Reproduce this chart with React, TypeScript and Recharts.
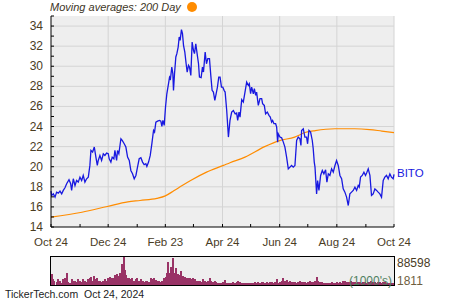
import { LineChart, Line, XAxis, YAxis, CartesianGrid, ReferenceLine, BarChart, Bar } from 'recharts';

// days counted from Oct 24, 2023
const priceDays = [
  0, 0.7, 2.5, 4.3, 6, 7.8, 9.6, 11.4, 13.1, 14.9,
  16.7, 19.2, 21, 22, 23.8, 25.6, 27.3, 29.1, 30.9, 32.7,
  34.4, 36.2, 38, 39.8, 41.5, 42.6, 44.4, 46.2, 47.9, 49.4,
  50.4, 52.2, 54, 55.8, 57.5, 59.3, 61.1, 62.1, 63.9, 65.3,
  67.1, 68.2, 70, 71, 72.4, 74.6, 76, 78.1, 79.9, 81.7,
  83.5, 85.2, 87, 88.8, 90.6, 92.3, 94.1, 95.9, 97.7, 99.4,
  101.2, 102.3, 104.1, 105.9, 107.6, 109.4, 110.5, 111.9, 113.7, 115.8,
  117.2, 118.3, 119.4, 120.8, 122.2, 123.6, 125.4, 126.5, 127.5, 128.9,
  130, 130.7, 131.8, 133.2, 134.3, 135.7, 136.8, 137.8, 139.2, 140.3,
  141.4, 142.8, 144.2, 145.3, 146.7, 147.8, 149.2, 150.6, 152, 153.1,
  154.5, 155.9, 157.4, 158.4, 160.2, 161.6, 162.7, 164.5, 165.9, 167.3,
  169.1, 170.5, 171.9, 173.3, 174.8, 176.2, 177.6, 179, 180.4, 181.9,
  183.3, 184.7, 185.8, 187.5, 189.3, 191, 192.8, 194.6, 196.4, 198.1,
  199.2, 200.6, 201.7, 203.5, 205.2, 207, 208.8, 210.6, 211.6, 213,
  214.1, 215.9, 217, 218.4, 219.4, 221.2, 223, 224.8, 225.8, 227.6,
  229, 230.8, 232.6, 234, 235.4, 236.5, 237.9, 239.7, 240.8, 241.8,
  242.5, 244.3, 246.1, 247.9, 249.6, 251.4, 253.2, 255, 256.7, 258.5,
  260.3, 262.1, 263.8, 265.6, 266.7, 267.4, 269.2, 270.9, 272.7, 273.8,
  275.2, 277, 278.8, 279.8, 280.9, 281.7, 283.4, 284.5, 285.9, 287.7,
  289.5, 291.2, 293, 294.4, 295.9, 297.6, 299.4, 301.2, 303, 304.7,
  306.5, 308.3, 310.1, 311.8, 313.6, 315.4, 317.2, 318.9, 320.7, 322.5,
  324.3, 326.1, 327.8, 328.9, 330.3, 332.1, 333.9, 335.6, 337.1, 338.5,
  340.3, 342, 343.8, 345.6, 347.4, 349.1, 350.9, 352.7, 354.5, 356.2,
  358, 359.8, 361.6, 363.3, 365.1, 366,
];

const priceValues = [
  17.57, 17.14, 17.3, 16.97, 17.47, 17.37, 17.57, 17.3, 17.64, 17.9,
  18.3, 18.7, 18.3, 17.64, 18.8, 18.13, 18.63, 18.47, 18.96, 18.63,
  19.13, 18.47, 18.8, 18.96, 20.13, 21.62, 21.46, 21.96, 20.95, 20.13,
  20.62, 21.12, 20.62, 21.29, 21.12, 21.36, 21.29, 20.79, 20.46, 20.95,
  20.79, 21.62, 20.62, 21.62, 21.29, 22.78, 22.62, 22.29, 21.96, 20.95,
  20.62, 19.63, 19.3, 18.8, 19.13, 19.96, 20.79, 20.89, 20.46, 20.2,
  20.3, 20.03, 20.46, 21.12, 22.28, 23.61, 23.44, 24.44, 24.54, 24.61,
  24.54, 24.01, 24.61, 24.11, 25.94, 27.26, 28.26, 28.92, 28.76, 29.92,
  29.26, 27.6, 29.26, 30.92, 31.25, 31.91, 32.91, 32.58, 33.64, 33.24,
  32.08, 31.41, 30.25, 29.42, 30.09, 29.92, 29.09, 32.41, 31.58, 31.25,
  32.24, 31.25, 30.25, 28.92, 28.86, 29.92, 29.42, 31.41, 30.25, 30.75,
  30.75, 29.09, 27.6, 27.43, 26.6, 27.26, 27.93, 28.92, 28.92, 27.93,
  27.93, 27.6, 27.43, 25.6, 22.95, 24.61, 25.44, 25.6, 25.27, 25.34,
  24.61, 25.44, 24.94, 26.67, 26.43, 27.43, 28.43, 28.09, 28.26, 27.26,
  27.93, 27.26, 27.76, 27.1, 27.43, 26.1, 26.77, 26.77, 26.27, 26.1,
  25.27, 25.44, 25.11, 24.94, 24.44, 24.61, 24.28, 24.28, 23.94, 22.45,
  23.28, 22.95, 22.88, 22.45, 21.95, 20.95, 19.79, 19.96, 20.12, 19.96,
  20.12, 22.61, 22.95, 22.78, 22.12, 23.61, 23.78, 22.95, 22.95, 22.28,
  23.61, 23.44, 22.61, 21.79, 20.46, 19.96, 17.3, 18.63, 17.64, 19.13,
  19.63, 19.29, 19.69, 18.46, 19.29, 19.13, 19.79, 19.46, 20.12, 20.62,
  20.12, 19.13, 18.8, 17.8, 17.47, 16.97, 16.14, 17.3, 17.47, 17.64,
  17.97, 17.64, 18.13, 17.97, 18.96, 19.13, 19.46, 19.13, 19.46, 19.79,
  19.13, 17.14, 17.3, 17.8, 17.64, 17.47, 17.3, 16.97, 18.63, 18.96,
  19.13, 18.8, 19.29, 18.96, 18.8, 19.23,
];

// 200 day moving average
const maDays = [0, 33, 60, 82, 95, 113, 122, 131, 140, 149, 166, 184, 191, 207, 228, 244, 260, 271, 282, 303, 324, 340, 353, 366];
const maValues = [14.98, 15.47, 16.04, 16.5, 16.64, 16.85, 17.1, 17.6, 18.13, 18.63, 19.46, 20.13, 20.4, 20.95, 22.0, 22.6, 22.95, 23.4, 23.6, 23.78, 23.78, 23.7, 23.55, 23.4];

// volume, in 1000's
const volumeDays = [
  0.7, 1.8, 3.6, 6, 7.8, 9.6, 11.4, 13.1, 14.9, 16.7,
  18.5, 20.2, 22, 23.8, 25.6, 27.3, 29.1, 30.9, 32.7, 34.5,
  36.2, 38, 39.8, 41.6, 42.6, 44, 45.8, 46.9, 48.7, 50.4,
  52.2, 54, 55.8, 57.5, 59.3, 61.1, 62.9, 64.6, 66.4, 68.2,
  70, 71.7, 73.5, 74.6, 76, 77.1, 78.1, 79.2, 80.3, 81.7,
  83.5, 85.2, 87, 88.8, 90.6, 92.3, 94.1, 95.9, 97.7, 99.5,
  101.2, 103, 104.8, 106.6, 108.3, 110.1, 111.9, 113.7, 115.4, 117.2,
  119, 120.8, 122.5, 123.6, 124.7, 125.7, 127.2, 128.6, 130, 131.1,
  132.1, 133.2, 134.6, 135.7, 137.5, 139.2, 141, 142.8, 144.6, 146.3,
  148.1, 149.9, 151.7, 153.4, 155.2, 157, 158.8, 160.5, 162.3, 164.1,
  165.9, 167.6, 169.4, 171.2, 173, 174.7, 176.5, 178.3, 180.1,
  182.2, 184, 185.7, 187.5, 189.3, 191.1, 192.8, 194.6, 196.4, 198.2,
  199.9, 201.7, 203.5, 205.3, 207, 208.8, 210.6, 212.4, 214.1, 215.9,
  217.7, 219.5, 221.2, 223, 224.8, 226.6, 228.4, 230.1, 231.9, 233.7,
  235.5, 237.2, 239, 240.8, 242.6, 244.3, 246.1, 247.9, 249.7, 251.4,
  253.2, 255, 256.8, 258.5, 260.3, 262.1, 263.9, 265.6, 267.4, 269.2,
  271, 272.8, 274.5, 276.3, 278.1, 279.9, 281.6, 283.4, 285.2, 287,
  288.7, 290.5, 292.3, 294.1, 295.8, 297.6, 299.4, 301.2, 302.9, 304.7,
  306.5, 308.3, 310, 311.8, 313.6, 315.4, 317.2, 318.9, 320.7, 322.5,
  324.3, 326, 327.8, 329.6, 331.4, 333.1, 334.9, 336.7, 338.5, 340.2,
  342, 343.8, 345.6, 347.3, 349.1, 350.9, 352.7, 354.5, 356.2, 358,
  359.8, 361.6, 363.3, 365.1,
];

const volumes = [
  36100, 17500, 12000, 9800, 17500, 12000, 6600, 17500, 20800, 39400,
  9800, 6600, 17500, 12000, 12000, 9800, 17500, 14200, 9800, 17500,
  12000, 9800, 17500, 23000, 25200, 12000, 28400, 17500, 20800, 12000,
  14200, 9800, 12000, 17500, 12000, 20800, 25200, 20800, 23000, 31700,
  36100, 28400, 39400, 33900, 66700, 50300, 88598, 47000, 31700, 20800,
  23000, 17500, 20800, 14200, 17500, 20800, 12000, 17500, 12000, 9800,
  14200, 12000, 9800, 20800, 17500, 20800, 16400, 14200, 12000, 9800,
  12000, 20800, 25200, 39400, 72200, 33900, 39400, 55800, 86000, 39400,
  28400, 53600, 25200, 33900, 31700, 44900, 28400, 25200, 23000, 20800,
  20800, 17500, 23000, 17500, 12000, 14200, 12000, 9800, 17500, 14200,
  9800, 12000, 20800, 12000, 9800, 12000, 9800, 7700, 5500,
  5500, 9800, 16400, 7700, 7700, 5500, 7700, 9800, 7700, 10900,
  13100, 9800, 7700, 5500, 5500, 7700, 7700, 5500, 5500, 7700,
  9800, 7700, 9800, 7700, 10900, 9800, 7700, 9800, 7700, 9800,
  10900, 7700, 9800, 18600, 7700, 9800, 13100, 20800, 13100, 16400,
  10900, 12000, 9800, 10900, 9800, 7700, 9800, 13100, 9800, 10900,
  9800, 7700, 10900, 14200, 9800, 10900, 14200, 26300, 12000, 9800,
  10900, 7700, 5500, 7700, 5500, 7700, 9800, 7700, 5500, 9800,
  7700, 10900, 7700, 12000, 13100, 10900, 9800, 9800, 12000, 8800,
  10900, 7700, 9800, 8800, 7700, 9800, 10900, 7700, 8800, 9800,
  12000, 9800, 8800, 7700, 9800, 8800, 7700, 9800, 8800, 7700,
  6600, 7700, 6600, 7700,
];

const xMajorTicks = [0, 61, 122, 183, 244, 305, 366];
const xMajorLabels = ['Oct 24', 'Dec 24', 'Feb 23', 'Apr 24', 'Jun 24', 'Aug 24', 'Oct 24'];
const xMinorTicks = [31, 92, 152, 213, 274, 336];
const yMajorTicks = [14, 16, 18, 20, 22, 24, 26, 28, 30, 32, 34];
const yMinorTicks = [15, 17, 19, 21, 23, 25, 27, 29, 31, 33, 35];
const volumeHigh = 88598;
const volumeLow = 1811;
const ticker = 'BITO';

const FONT = '"Liberation Sans", Arial, sans-serif';
const TEXT = '#4a3c1f';
const PRICE_COLOR = '#1818e0';
const MA_COLOR = '#ff8c00';
const GRID_COLOR = '#d4d4d4';
const VOLUME_COLOR = '#993366';

const priceData = priceDays.map((day, i) => ({ day, price: priceValues[i] }));
const maData = maDays.map((day, i) => ({ day, ma: maValues[i] }));
const volumeData = volumeDays.map((day, i) => ({ day, volume: volumes[i] }));

const renderYTick = (props: any) => {
  const { x, y, payload } = props;
  const axisX = x + 8;
  const major = payload.value % 2 === 0;
  return (
    <g>
      <line x1={axisX} x2={axisX + 3} y1={y} y2={y} stroke="#000" />
      {major && (
        <text x={x} y={y + 4} textAnchor="end" fill={TEXT} fontSize={12} fontFamily={FONT}>
          {payload.value}
        </text>
      )}
    </g>
  );
};

const renderXTick = (props: any) => {
  const { x, y, payload } = props;
  const idx = xMajorTicks.indexOf(payload.value);
  return (
    <g>
      <line x1={x} x2={x} y1={y} y2={y - 3} stroke="#000" />
      {idx >= 0 && (
        <text x={x} y={y + 19} textAnchor="middle" fill={TEXT} fontSize={11.5} fontFamily={FONT}>
          {xMajorLabels[idx]}
        </text>
      )}
    </g>
  );
};

const renderTickerLabel = (props: any) => {
  if (props.index !== priceData.length - 1) return null;
  return (
    <text x={props.x + 3} y={props.y + 3} fill={PRICE_COLOR} fontSize={11.5} fontFamily={FONT}>
      {ticker}
    </text>
  );
};

// keep each volume bar 2px wide, centred on its day
const VolumeBar = (props: any) => {
  const { x, y, width, height } = props;
  if (!height || height <= 0) return null;
  return <rect x={x + width / 2 - 1} y={y} width={2} height={height} fill={VOLUME_COLOR} shapeRendering="crispEdges" />;
};

export default function App() {
  return (
    <div style={{ position: 'absolute', left: 0, top: 0, width: 450, height: 300, background: '#fff', fontFamily: FONT }}>
      <div style={{ position: 'absolute', left: 50, top: 0, fontSize: 11, lineHeight: '14px', fontStyle: 'italic', color: '#3d3526', whiteSpace: 'nowrap' }}>
        Moving averages: 200 Day
      </div>
      <div style={{ position: 'absolute', left: 187, top: 2, width: 10, height: 10, borderRadius: '50%', background: MA_COLOR }} />

      <LineChart width={450} height={250} margin={{ top: 16, right: 56, left: 0, bottom: 0 }}>
        <CartesianGrid fill="#eeeeee" horizontal={false} vertical={false} />
        {yMajorTicks.slice(1).map((v) => (
          <ReferenceLine key={`h${v}`} y={v} stroke={GRID_COLOR} strokeWidth={1} />
        ))}
        {xMajorTicks.slice(1).map((v) => (
          <ReferenceLine key={`v${v}`} x={v} stroke={GRID_COLOR} strokeWidth={1} />
        ))}
        <XAxis
          dataKey="day"
          type="number"
          domain={[0, 366]}
          ticks={[...xMajorTicks, ...xMinorTicks].sort((a, b) => a - b)}
          interval={0}
          height={23}
          tickSize={0}
          tickMargin={0}
          tickLine={false}
          axisLine={{ stroke: '#000' }}
          tick={renderXTick}
        />
        <YAxis
          type="number"
          domain={[14, 35]}
          ticks={[...yMajorTicks, ...yMinorTicks].sort((a, b) => a - b)}
          interval={0}
          width={51}
          tickSize={0}
          tickMargin={8}
          tickLine={false}
          axisLine={{ stroke: '#000' }}
          tick={renderYTick}
        />
        <Line
          data={maData}
          dataKey="ma"
          type="monotone"
          stroke={MA_COLOR}
          strokeWidth={1.2}
          dot={false}
          isAnimationActive={false}
        />
        <Line
          data={priceData}
          dataKey="price"
          type="linear"
          stroke={PRICE_COLOR}
          strokeWidth={1.3}
          dot={false}
          label={renderTickerLabel}
          isAnimationActive={false}
        />
      </LineChart>

      <div style={{ position: 'absolute', left: 50, top: 256, width: 343, height: 28, border: '1px solid #000', background: '#eeeeee' }}>
        <BarChart width={343} height={28} data={volumeData} margin={{ top: 0, right: 0, left: 0, bottom: 0 }}>
          <XAxis dataKey="day" type="number" domain={[0, 366]} hide />
          <YAxis type="number" domain={[0, volumeHigh]} hide />
          <Bar dataKey="volume" fill={VOLUME_COLOR} barSize={2} shape={VolumeBar} isAnimationActive={false} />
        </BarChart>
      </div>
      <div style={{ position: 'absolute', left: 397, top: 256, fontSize: 12, lineHeight: '14px', color: TEXT }}>{volumeHigh}</div>
      <div style={{ position: 'absolute', left: 397, top: 274, fontSize: 12, lineHeight: '14px', color: '#6e5e3e' }}>{volumeLow}</div>
      <div style={{ position: 'absolute', left: 349, top: 274, fontSize: 12, lineHeight: '14px', color: '#4f7f5f' }}>(1000's)</div>
      <div style={{ position: 'absolute', left: 5, top: 287, fontSize: 10.5, lineHeight: '14px', color: '#222', whiteSpace: 'pre' }}>
        {'TickerTech.com  Oct 24, 2024'}
      </div>
    </div>
  );
}
